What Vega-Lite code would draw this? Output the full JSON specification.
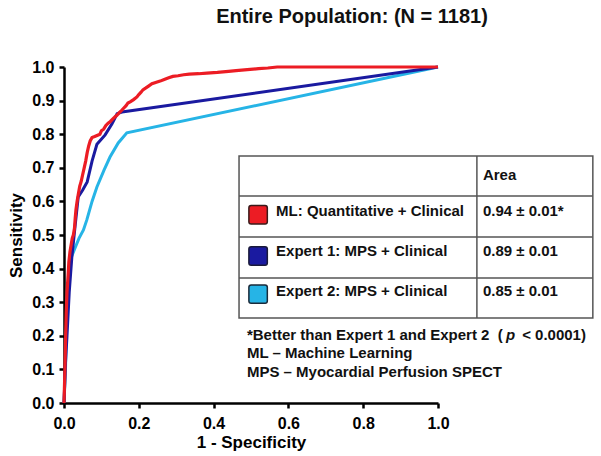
{
  "$schema": "https://vega.github.io/schema/vega-lite/v6.json",
  "width": 374,
  "height": 336,
  "autosize": "none",
  "padding": {"left": 64, "top": 67, "right": 163, "bottom": 53},
  "background": "white",
  "config": {
    "view": {"stroke": null},
    "font": "Liberation Sans",
    "axis": {
      "grid": false,
      "domainColor": "black",
      "domainWidth": 2.5,
      "tickColor": "black",
      "tickWidth": 2.5,
      "tickSize": 5,
      "labelFont": "Liberation Sans",
      "labelFontSize": 16,
      "labelFontWeight": "bold",
      "labelColor": "black",
      "labelFlush": false,
      "labelOverlap": false,
      "titleFont": "Liberation Sans",
      "titleFontSize": 17,
      "titleFontWeight": "bold",
      "titleColor": "black"
    },
    "axisX": {"tickCount": 5, "labelPadding": 7, "titlePadding": 3},
    "axisY": {"tickCount": 10, "labelPadding": 5, "titlePadding": 6}
  },
  "title": {
    "text": "Entire Population: (N = 1181)",
    "font": "Liberation Sans",
    "fontSize": 20,
    "fontWeight": "bold",
    "color": "#111",
    "anchor": "middle",
    "frame": "group",
    "baseline": "alphabetic",
    "offset": 16,
    "dx": 101
  },
  "datasets": {
    "roc": [
      {"model": "Expert 2", "fpr": 0, "tpr": 0},
      {"model": "Expert 2", "fpr": 0.004, "tpr": 0.1},
      {"model": "Expert 2", "fpr": 0.008, "tpr": 0.3},
      {"model": "Expert 2", "fpr": 0.014, "tpr": 0.39},
      {"model": "Expert 2", "fpr": 0.02, "tpr": 0.435},
      {"model": "Expert 2", "fpr": 0.029, "tpr": 0.46},
      {"model": "Expert 2", "fpr": 0.04, "tpr": 0.49},
      {"model": "Expert 2", "fpr": 0.052, "tpr": 0.515},
      {"model": "Expert 2", "fpr": 0.061, "tpr": 0.545},
      {"model": "Expert 2", "fpr": 0.075, "tpr": 0.6},
      {"model": "Expert 2", "fpr": 0.088, "tpr": 0.643},
      {"model": "Expert 2", "fpr": 0.107, "tpr": 0.693},
      {"model": "Expert 2", "fpr": 0.123, "tpr": 0.732},
      {"model": "Expert 2", "fpr": 0.145, "tpr": 0.774},
      {"model": "Expert 2", "fpr": 0.168, "tpr": 0.804},
      {"model": "Expert 2", "fpr": 1, "tpr": 1},
      {"model": "Expert 1", "fpr": 0, "tpr": 0},
      {"model": "Expert 1", "fpr": 0.004, "tpr": 0.12},
      {"model": "Expert 1", "fpr": 0.008, "tpr": 0.2},
      {"model": "Expert 1", "fpr": 0.014, "tpr": 0.33},
      {"model": "Expert 1", "fpr": 0.021, "tpr": 0.435},
      {"model": "Expert 1", "fpr": 0.03, "tpr": 0.53},
      {"model": "Expert 1", "fpr": 0.038, "tpr": 0.613},
      {"model": "Expert 1", "fpr": 0.05, "tpr": 0.634},
      {"model": "Expert 1", "fpr": 0.062, "tpr": 0.658},
      {"model": "Expert 1", "fpr": 0.075, "tpr": 0.72},
      {"model": "Expert 1", "fpr": 0.088, "tpr": 0.77},
      {"model": "Expert 1", "fpr": 0.11, "tpr": 0.798},
      {"model": "Expert 1", "fpr": 0.128, "tpr": 0.83},
      {"model": "Expert 1", "fpr": 0.142, "tpr": 0.861},
      {"model": "Expert 1", "fpr": 0.155, "tpr": 0.866},
      {"model": "Expert 1", "fpr": 1, "tpr": 1},
      {"model": "ML", "fpr": 0, "tpr": 0},
      {"model": "ML", "fpr": 0.002, "tpr": 0.08},
      {"model": "ML", "fpr": 0.004, "tpr": 0.18},
      {"model": "ML", "fpr": 0.006, "tpr": 0.27},
      {"model": "ML", "fpr": 0.008, "tpr": 0.33},
      {"model": "ML", "fpr": 0.011, "tpr": 0.38},
      {"model": "ML", "fpr": 0.013, "tpr": 0.42},
      {"model": "ML", "fpr": 0.016, "tpr": 0.45},
      {"model": "ML", "fpr": 0.019, "tpr": 0.47},
      {"model": "ML", "fpr": 0.022, "tpr": 0.49},
      {"model": "ML", "fpr": 0.025, "tpr": 0.5},
      {"model": "ML", "fpr": 0.028, "tpr": 0.52},
      {"model": "ML", "fpr": 0.03, "tpr": 0.55},
      {"model": "ML", "fpr": 0.032, "tpr": 0.575},
      {"model": "ML", "fpr": 0.035, "tpr": 0.6},
      {"model": "ML", "fpr": 0.038, "tpr": 0.62},
      {"model": "ML", "fpr": 0.042, "tpr": 0.645},
      {"model": "ML", "fpr": 0.046, "tpr": 0.66},
      {"model": "ML", "fpr": 0.05, "tpr": 0.68},
      {"model": "ML", "fpr": 0.054, "tpr": 0.7},
      {"model": "ML", "fpr": 0.058, "tpr": 0.72},
      {"model": "ML", "fpr": 0.062, "tpr": 0.745},
      {"model": "ML", "fpr": 0.066, "tpr": 0.765},
      {"model": "ML", "fpr": 0.07, "tpr": 0.78},
      {"model": "ML", "fpr": 0.075, "tpr": 0.79},
      {"model": "ML", "fpr": 0.082, "tpr": 0.793},
      {"model": "ML", "fpr": 0.09, "tpr": 0.797},
      {"model": "ML", "fpr": 0.096, "tpr": 0.8},
      {"model": "ML", "fpr": 0.1, "tpr": 0.81},
      {"model": "ML", "fpr": 0.106, "tpr": 0.815},
      {"model": "ML", "fpr": 0.112, "tpr": 0.826},
      {"model": "ML", "fpr": 0.118, "tpr": 0.833},
      {"model": "ML", "fpr": 0.124, "tpr": 0.838},
      {"model": "ML", "fpr": 0.13, "tpr": 0.845},
      {"model": "ML", "fpr": 0.136, "tpr": 0.851},
      {"model": "ML", "fpr": 0.142, "tpr": 0.857},
      {"model": "ML", "fpr": 0.148, "tpr": 0.864},
      {"model": "ML", "fpr": 0.155, "tpr": 0.872},
      {"model": "ML", "fpr": 0.16, "tpr": 0.878},
      {"model": "ML", "fpr": 0.166, "tpr": 0.885},
      {"model": "ML", "fpr": 0.171, "tpr": 0.893},
      {"model": "ML", "fpr": 0.178, "tpr": 0.897},
      {"model": "ML", "fpr": 0.186, "tpr": 0.903},
      {"model": "ML", "fpr": 0.195, "tpr": 0.911},
      {"model": "ML", "fpr": 0.2, "tpr": 0.918},
      {"model": "ML", "fpr": 0.206, "tpr": 0.925},
      {"model": "ML", "fpr": 0.211, "tpr": 0.932},
      {"model": "ML", "fpr": 0.218, "tpr": 0.937},
      {"model": "ML", "fpr": 0.226, "tpr": 0.943},
      {"model": "ML", "fpr": 0.235, "tpr": 0.95},
      {"model": "ML", "fpr": 0.245, "tpr": 0.954},
      {"model": "ML", "fpr": 0.257, "tpr": 0.958},
      {"model": "ML", "fpr": 0.268, "tpr": 0.963},
      {"model": "ML", "fpr": 0.28, "tpr": 0.968},
      {"model": "ML", "fpr": 0.291, "tpr": 0.972},
      {"model": "ML", "fpr": 0.305, "tpr": 0.974},
      {"model": "ML", "fpr": 0.32, "tpr": 0.977},
      {"model": "ML", "fpr": 0.335, "tpr": 0.979},
      {"model": "ML", "fpr": 0.36, "tpr": 0.98},
      {"model": "ML", "fpr": 0.382, "tpr": 0.982},
      {"model": "ML", "fpr": 0.41, "tpr": 0.984},
      {"model": "ML", "fpr": 0.44, "tpr": 0.987},
      {"model": "ML", "fpr": 0.46, "tpr": 0.989},
      {"model": "ML", "fpr": 0.49, "tpr": 0.992},
      {"model": "ML", "fpr": 0.52, "tpr": 0.995},
      {"model": "ML", "fpr": 0.545, "tpr": 0.997},
      {"model": "ML", "fpr": 0.57, "tpr": 1},
      {"model": "ML", "fpr": 1, "tpr": 1}
    ],
    "table": [
      {"model": "ML", "label": "ML: Quantitative + Clinical", "area": "0.94 ± 0.01*"},
      {"model": "Expert 1", "label": "Expert 1: MPS + Clinical", "area": "0.89 ± 0.01"},
      {"model": "Expert 2", "label": "Expert 2: MPS + Clinical", "area": "0.85 ± 0.01"}
    ],
    "notes": [
      {"k": "hdr", "t": "Area"},
      {"k": "n1", "t": "*Better than Expert 1 and Expert 2\u00a0 ("},
      {"k": "n2", "t": "p"},
      {"k": "n3", "t": "< 0.0001)"},
      {"k": "n4", "t": "ML – Machine Learning"},
      {"k": "n5", "t": "MPS – Myocardial Perfusion SPECT"}
    ]
  },
  "layer": [
    {
      "data": {"name": "roc"},
      "transform": [{"filter": "datum.model === 'Expert 2'"}],
      "mark": {"type": "line", "strokeWidth": 3, "interpolate": "linear"},
      "encoding": {
        "x": {"field": "fpr", "type": "quantitative", "scale": {"domain": [0, 1], "nice": false, "zero": true},
              "axis": {"title": "1 - Specificity", "format": ".1f", "tickCount": 5}},
        "y": {"field": "tpr", "type": "quantitative", "scale": {"domain": [0, 1], "nice": false},
              "axis": {"title": "Sensitivity", "format": ".1f", "tickCount": 10}},
        "color": {"field": "model", "type": "nominal", "legend": null,
                  "scale": {"domain": ["ML", "Expert 1", "Expert 2"], "range": ["#ec1c24", "#1a1aa0", "#26b4e6"]}},
        "order": {"field": "fpr", "type": "quantitative"}
      }
    },
    {
      "data": {"name": "roc"},
      "transform": [{"filter": "datum.model === 'Expert 1'"}],
      "mark": {"type": "line", "strokeWidth": 3},
      "encoding": {
        "x": {"field": "fpr", "type": "quantitative"},
        "y": {"field": "tpr", "type": "quantitative"},
        "color": {"field": "model", "type": "nominal"},
        "order": {"field": "fpr", "type": "quantitative"}
      }
    },
    {
      "data": {"name": "roc"},
      "transform": [{"filter": "datum.model === 'ML'"}],
      "mark": {"type": "line", "strokeWidth": 3.2},
      "encoding": {
        "x": {"field": "fpr", "type": "quantitative"},
        "y": {"field": "tpr", "type": "quantitative"},
        "color": {"field": "model", "type": "nominal"},
        "order": {"field": "fpr", "type": "quantitative"}
      }
    },
    {
      "data": {"name": "notes"},
      "transform": [{"filter": "datum.k === 'hdr'"}],
      "layer": [
        {
          "mark": {"type": "rect", "filled": false, "stroke": "#555", "strokeWidth": 1.5},
          "encoding": {"x": {"datum": 0.468}, "x2": {"datum": 1.414}, "y": {"datum": 0.735}, "y2": {"datum": 0.253}}
        },
        {
          "mark": {"type": "rule", "stroke": "#555", "strokeWidth": 1.5},
          "encoding": {"x": {"datum": 0.468}, "x2": {"datum": 1.414}, "y": {"datum": 0.616}}
        },
        {
          "mark": {"type": "rule", "stroke": "#555", "strokeWidth": 1.5},
          "encoding": {"x": {"datum": 0.468}, "x2": {"datum": 1.414}, "y": {"datum": 0.494}}
        },
        {
          "mark": {"type": "rule", "stroke": "#555", "strokeWidth": 1.5},
          "encoding": {"x": {"datum": 0.468}, "x2": {"datum": 1.414}, "y": {"datum": 0.372}}
        },
        {
          "mark": {"type": "rule", "stroke": "#555", "strokeWidth": 1.5},
          "encoding": {"x": {"datum": 1.104}, "y": {"datum": 0.735}, "y2": {"datum": 0.253}}
        },
        {
          "mark": {"type": "text", "align": "left", "baseline": "middle", "fontSize": 15, "fontWeight": "bold", "font": "Liberation Sans", "color": "#111"},
          "encoding": {"x": {"datum": 1.12}, "y": {"datum": 0.678}, "text": {"field": "t"}}
        }
      ]
    },
    {
      "data": {"name": "table"},
      "transform": [{"filter": "datum.model === 'ML'"}],
      "layer": [
        {
          "mark": {"type": "point", "shape": "M -0.75,-1 L 0.75,-1 Q 1,-1 1,-0.75 L 1,0.75 Q 1,1 0.75,1 L -0.75,1 Q -1,1 -1,0.75 L -1,-0.75 Q -1,-1 -0.75,-1 Z", "filled": true, "size": 340, "stroke": "#3a1a1a", "strokeWidth": 1.5, "opacity": 1},
          "encoding": {"x": {"datum": 0.519}, "y": {"datum": 0.56}, "color": {"field": "model", "type": "nominal"}}
        },
        {
          "mark": {"type": "text", "align": "left", "baseline": "middle", "fontSize": 15, "fontWeight": "bold", "font": "Liberation Sans", "color": "#111"},
          "encoding": {"x": {"datum": 0.567}, "y": {"datum": 0.571}, "text": {"field": "label"}}
        },
        {
          "mark": {"type": "text", "align": "left", "baseline": "middle", "fontSize": 15, "fontWeight": "bold", "font": "Liberation Sans", "color": "#111"},
          "encoding": {"x": {"datum": 1.12}, "y": {"datum": 0.571}, "text": {"field": "area"}}
        }
      ]
    },
    {
      "data": {"name": "table"},
      "transform": [{"filter": "datum.model === 'Expert 1'"}],
      "layer": [
        {
          "mark": {"type": "point", "shape": "M -0.75,-1 L 0.75,-1 Q 1,-1 1,-0.75 L 1,0.75 Q 1,1 0.75,1 L -0.75,1 Q -1,1 -1,0.75 L -1,-0.75 Q -1,-1 -0.75,-1 Z", "filled": true, "size": 340, "stroke": "#1a1a3a", "strokeWidth": 1.5, "opacity": 1},
          "encoding": {"x": {"datum": 0.519}, "y": {"datum": 0.4375}, "color": {"field": "model", "type": "nominal"}}
        },
        {
          "mark": {"type": "text", "align": "left", "baseline": "middle", "fontSize": 15, "fontWeight": "bold", "font": "Liberation Sans", "color": "#111"},
          "encoding": {"x": {"datum": 0.567}, "y": {"datum": 0.452}, "text": {"field": "label"}}
        },
        {
          "mark": {"type": "text", "align": "left", "baseline": "middle", "fontSize": 15, "fontWeight": "bold", "font": "Liberation Sans", "color": "#111"},
          "encoding": {"x": {"datum": 1.12}, "y": {"datum": 0.452}, "text": {"field": "area"}}
        }
      ]
    },
    {
      "data": {"name": "table"},
      "transform": [{"filter": "datum.model === 'Expert 2'"}],
      "layer": [
        {
          "mark": {"type": "point", "shape": "M -0.75,-1 L 0.75,-1 Q 1,-1 1,-0.75 L 1,0.75 Q 1,1 0.75,1 L -0.75,1 Q -1,1 -1,0.75 L -1,-0.75 Q -1,-1 -0.75,-1 Z", "filled": true, "size": 340, "stroke": "#1a2a3a", "strokeWidth": 1.5, "opacity": 1},
          "encoding": {"x": {"datum": 0.519}, "y": {"datum": 0.324}, "color": {"field": "model", "type": "nominal"}}
        },
        {
          "mark": {"type": "text", "align": "left", "baseline": "middle", "fontSize": 15, "fontWeight": "bold", "font": "Liberation Sans", "color": "#111"},
          "encoding": {"x": {"datum": 0.567}, "y": {"datum": 0.333}, "text": {"field": "label"}}
        },
        {
          "mark": {"type": "text", "align": "left", "baseline": "middle", "fontSize": 15, "fontWeight": "bold", "font": "Liberation Sans", "color": "#111"},
          "encoding": {"x": {"datum": 1.12}, "y": {"datum": 0.333}, "text": {"field": "area"}}
        }
      ]
    },
    {
      "data": {"name": "notes"},
      "transform": [{"filter": "datum.k === 'n1'"}],
      "mark": {"type": "text", "align": "left", "baseline": "middle", "fontSize": 15, "fontWeight": "bold", "font": "Liberation Sans", "color": "#111"},
      "encoding": {"x": {"datum": 0.489}, "y": {"datum": 0.202}, "text": {"field": "t"}}
    },
    {
      "data": {"name": "notes"},
      "transform": [{"filter": "datum.k === 'n2'"}],
      "mark": {"type": "text", "align": "left", "baseline": "middle", "fontSize": 15, "fontWeight": "bold", "fontStyle": "italic", "font": "Liberation Sans", "color": "#111"},
      "encoding": {"x": {"datum": 1.182}, "y": {"datum": 0.202}, "text": {"field": "t"}}
    },
    {
      "data": {"name": "notes"},
      "transform": [{"filter": "datum.k === 'n3'"}],
      "mark": {"type": "text", "align": "left", "baseline": "middle", "fontSize": 15, "fontWeight": "bold", "font": "Liberation Sans", "color": "#111"},
      "encoding": {"x": {"datum": 1.225}, "y": {"datum": 0.202}, "text": {"field": "t"}}
    },
    {
      "data": {"name": "notes"},
      "transform": [{"filter": "datum.k === 'n4'"}],
      "mark": {"type": "text", "align": "left", "baseline": "middle", "fontSize": 15, "fontWeight": "bold", "font": "Liberation Sans", "color": "#111"},
      "encoding": {"x": {"datum": 0.489}, "y": {"datum": 0.149}, "text": {"field": "t"}}
    },
    {
      "data": {"name": "notes"},
      "transform": [{"filter": "datum.k === 'n5'"}],
      "mark": {"type": "text", "align": "left", "baseline": "middle", "fontSize": 15, "fontWeight": "bold", "font": "Liberation Sans", "color": "#111"},
      "encoding": {"x": {"datum": 0.489}, "y": {"datum": 0.092}, "text": {"field": "t"}}
    }
  ]
}
